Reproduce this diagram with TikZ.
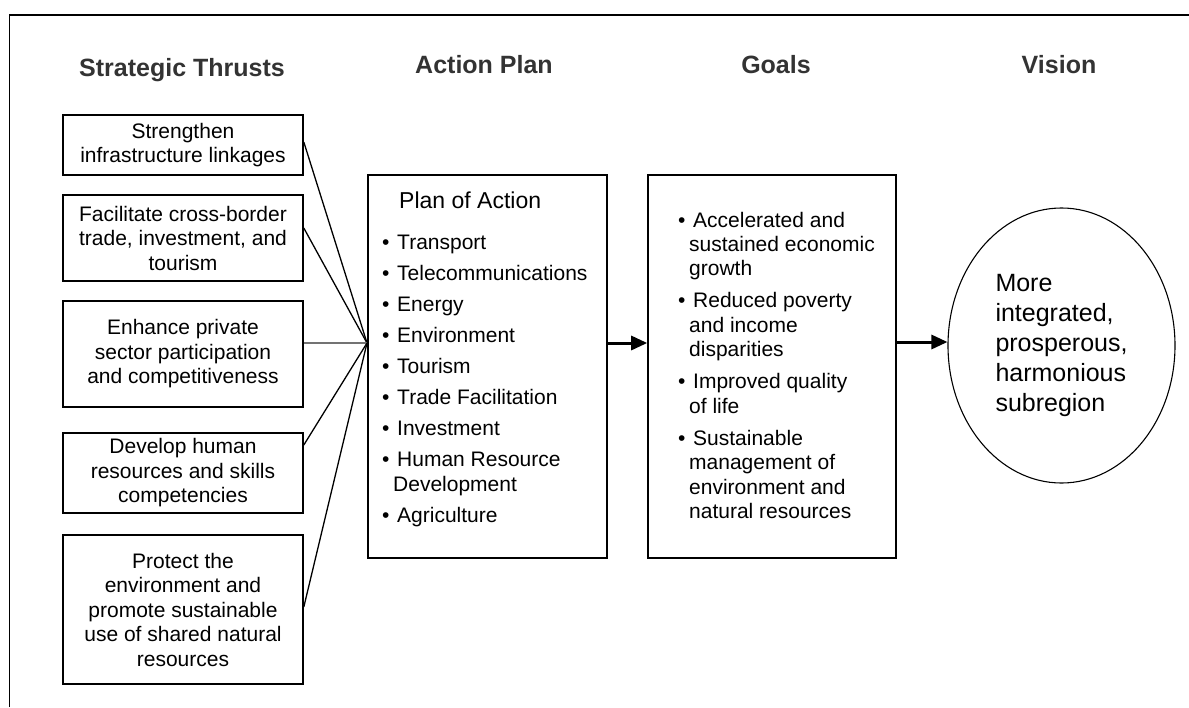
\documentclass[tikz,border=0pt]{standalone}
\usepackage{fontspec}
\setmainfont{Liberation Sans}
\usetikzlibrary{arrows.meta,shapes.geometric}

% bulleted entry with a hanging indent
\newcommand\bul[1]{\noindent\hangindent=11pt\hangafter=1\makebox[15pt][l]{\textbullet}#1\par}

\tikzset{
  heading/.style={anchor=base, inner sep=0pt, text=black!80,
    font=\bfseries\fontsize{25}{30}\selectfont},
  thrust/.style={draw, line width=1.6pt, minimum width=240pt, align=center,
    inner sep=0pt, font=\fontsize{21}{24.5}\selectfont},
  panel/.style={draw, line width=1.6pt, inner sep=0pt},
  listtext/.style={anchor=base west, inner sep=0pt, font=\fontsize{21}{25}\selectfont},
  link/.style={line width=1.3pt},
  flow/.style={line width=3pt, -{Triangle[length=16pt,width=14pt]}}
}

\begin{document}
\begin{tikzpicture}[x=1pt,y=-1pt]
\useasboundingbox (0,0) rectangle (1189,707);

% outer frame (only top and left edges fall inside the page)
\draw[line width=1.5pt] (9.5,707) -- (9.5,15) -- (1189,15);

% column headings
\node[heading] (hthrust) at (182,76) {Strategic Thrusts};
\node[heading] (hplan)   at (484,73) {Action Plan};
\node[heading] (hgoals)  at (776,73) {Goals};
\node[heading] (hvision) at (1059,73) {Vision};

% strategic thrusts
\node[thrust, minimum height=60pt]  (t1) at (183,145)   {Strengthen\\infrastructure linkages};
\node[thrust, minimum height=86pt]  (t2) at (183,238)   {Facilitate cross-border\\trade, investment, and\\tourism};
\node[thrust, minimum height=106pt] (t3) at (183,354)   {Enhance private\\sector participation\\and competitiveness};
\node[thrust, minimum height=80pt]  (t4) at (183,473)   {Develop human\\resources and skills\\competencies};
\node[thrust, minimum height=149pt] (t5) at (183,609.5) {Protect the\\environment and\\promote sustainable\\use of shared natural\\resources};

% action plan
\node[panel, minimum width=239pt, minimum height=383pt] (plan) at (487.5,366.5) {};
\node[anchor=base west, inner sep=0pt, font=\fontsize{23}{27}\selectfont] (plantitle) at (399,208) {Plan of Action};
\node[listtext] (planlist) at (382,249) {\parbox[t]{215pt}{\setlength\parskip{6pt}\raggedright
  \bul{Transport}
  \bul{Telecommunications}
  \bul{Energy}
  \bul{Environment}
  \bul{Tourism}
  \bul{Trade Facilitation}
  \bul{Investment}
  \bul{Human Resource\newline Development}
  \bul{Agriculture}}};

% goals
\node[panel, minimum width=248pt, minimum height=383pt] (goals) at (772,366.5) {};
\node[listtext, font=\fontsize{21}{24.3}\selectfont] (goallist) at (678,227) {\parbox[t]{210pt}{\setlength\parskip{8pt}\raggedright
  \bul{Accelerated and\newline sustained economic\newline growth}
  \bul{Reduced poverty\newline and income\newline disparities}
  \bul{Improved quality\newline of life}
  \bul{Sustainable\newline management of\newline environment and\newline natural resources}}};

% vision
\node[draw, ellipse, line width=1.1pt, minimum width=227pt, minimum height=275pt,
      align=left, inner sep=0pt, font=\fontsize{25}{30}\selectfont] (vision) at (1061.5,345.5)
  {More\\integrated,\\prosperous,\\harmonious\\subregion};

% thrusts converge on the action plan
\coordinate (hub) at (367,343);
\draw[link] ([yshift=3pt]t1.east) -- (hub);
\draw[link] ([yshift=10pt]t2.east) -- (hub);
\draw[link, black!55] (t3.east |- hub) -- (hub);
\draw[link] ([yshift=28pt]t4.east) -- (hub);
\draw[link] ([yshift=2.5pt]t5.east) -- (hub);

% flow to goals and vision
\draw[flow] (plan.east |- hub) -- (goals.west |- hub);
\draw[flow] (goals.east |- 0,342) -- (vision.west |- 0,342);
\end{tikzpicture}
\end{document}
